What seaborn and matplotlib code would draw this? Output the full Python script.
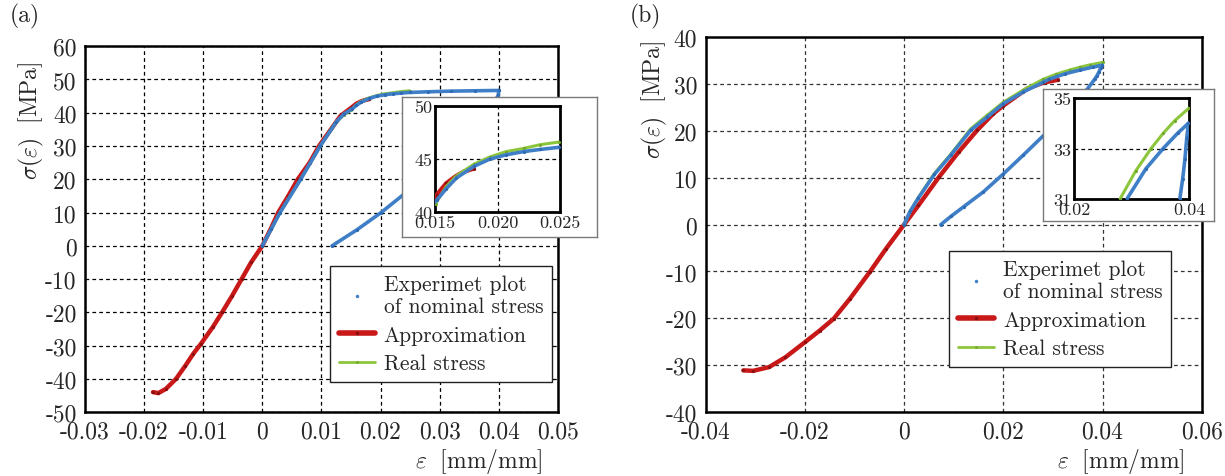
import numpy as np
import pandas as pd
import matplotlib
matplotlib.use("Agg")
import matplotlib.pyplot as plt
from matplotlib.lines import Line2D
from matplotlib.ticker import FuncFormatter, FixedLocator
import seaborn as sns

# ---------------- data: specimen (a) ----------------
a_exp_load_eps = [0, 0.0015, 0.003, 0.0065, 0.0098, 0.0125, 0.0138, 0.01513, 0.0159,
                  0.0167, 0.0181, 0.0194, 0.0207, 0.0221, 0.0234, 0.0249, 0.028,
                  0.032, 0.036, 0.0400]
a_exp_load_sig = [0, 5, 10, 20, 30, 37.2, 39.6, 41.1, 42.2, 43.2, 44.3, 45.0, 45.4,
                  45.7, 45.9, 46.1, 46.3, 46.5, 46.6, 46.7]
a_exp_unload_eps = [0.0400, 0.0399, 0.0395, 0.038, 0.035, 0.032, 0.029, 0.0265,
                    0.0243, 0.0201, 0.016, 0.0118]
a_exp_unload_sig = [46.7, 45.2, 44.0, 40.8, 35.3, 30.0, 24.9, 20.1, 16.0, 10.0, 4.8, 0.0]
a_approx_eps = [-0.0185, -0.0176, -0.0163, -0.0146, -0.0130, -0.0117, -0.0104,
                -0.0084, -0.0068, -0.0051, -0.0035, -0.0019, 0, 0.0014, 0.0027,
                0.0044, 0.006, 0.0080, 0.0096, 0.0116, 0.0132, 0.01513, 0.0159,
                0.0167, 0.0173, 0.0181]
a_approx_sig = [-44.0, -44.3, -43.0, -40.0, -36.0, -32.5, -29.5, -24.5, -20.0,
                -15.0, -10.0, -5.0, 0, 5, 10, 15, 20, 25, 30, 35, 39.0, 41.6, 42.7,
                43.4, 43.8, 44.1]
a_real_eps = [0, 0.003, 0.0065, 0.0098, 0.0125, 0.0138, 0.01505, 0.0159, 0.0167,
              0.0181, 0.0194, 0.0207, 0.0221, 0.0234, 0.0249]
a_real_sig = [0, 10, 20, 30, 37.2, 39.4, 40.8, 42.4, 43.4, 44.5, 45.2, 45.7, 46.0,
              46.35, 46.6]

# ---------------- data: specimen (b) ----------------
b_exp_load_eps = [0, 0.0012, 0.0029, 0.0061, 0.0094, 0.0134, 0.0167, 0.02, 0.024,
                  0.0281, 0.0292, 0.0325, 0.0355, 0.038, 0.0399]
b_exp_load_sig = [0, 2.8, 5.7, 10.7, 14.8, 20.1, 22.9, 25.8, 28.3, 30.4, 31.0,
                  32.2, 33.0, 33.6, 34.0]
b_exp_unload_eps = [0.0399, 0.0396, 0.0393, 0.0389, 0.0384, 0.037, 0.035, 0.032,
                    0.0281, 0.024, 0.02, 0.016, 0.012, 0.0095, 0.0074]
b_exp_unload_sig = [34.0, 33.4, 32.6, 31.8, 31.0, 29.0, 26.8, 23.4, 19.0, 14.8,
                    10.8, 7.0, 3.8, 1.8, 0.0]
b_approx_eps = [-0.0324, -0.0304, -0.0272, -0.0239, -0.0200, -0.0170, -0.0142,
                -0.0109, -0.0069, -0.0036, 0, 0.0029, 0.0070, 0.0110, 0.0147,
                0.0179, 0.0200, 0.0248, 0.0281, 0.031]
b_approx_sig = [-31.1, -31.2, -30.4, -28.3, -25.1, -22.6, -20.1, -15.8, -10.1,
                -5.1, 0, 4.1, 10.1, 15.5, 20.1, 23.6, 25.4, 29.0, 30.3, 30.9]
b_real_eps = [0, 0.0012, 0.0029, 0.0061, 0.0094, 0.0134, 0.0167, 0.02, 0.024,
              0.028, 0.0307, 0.0334, 0.0355, 0.0375, 0.04]
b_real_sig = [0, 2.8, 5.8, 10.9, 15.0, 20.4, 23.3, 26.1, 28.7, 31.0, 32.1, 33.0,
              33.6, 34.1, 34.6]

legend_labels = ["Experimet plot\nof nominal stress", "Approximation", "Real stress"]

# ---------------- style ----------------
sns.set_style("white")
plt.rcParams.update({
    "font.family": ["cmr10", "DejaVu Serif"],
    "mathtext.fontset": "cm",
    "axes.unicode_minus": False,
    "axes.formatter.use_mathtext": True,
    "axes.edgecolor": "black",
})

BLUE = "#3f7fc8"
RED = "#c81818"
GREEN = "#8cc63c"


def draw(ax, eps, sig, color, lw, ms, mcolor, z):
    df = pd.DataFrame({"eps": eps, "sig": sig})
    sns.lineplot(data=df, x="eps", y="sig", sort=False, estimator=None, ax=ax,
                 color=color, linewidth=lw, marker="o", markersize=ms,
                 markerfacecolor=mcolor, markeredgewidth=0, zorder=z)


def tick_fmt(v, pos):
    if abs(v) < 1e-12:
        return "0"
    return "%g" % v


def style_axes(ax, lw=1.8, grid_color="black"):
    for s in ax.spines.values():
        s.set_visible(True)
        s.set_linewidth(lw)
        s.set_color("black")
    ax.grid(True, linestyle=(0, (3, 2.5)), color=grid_color, linewidth=0.9)
    ax.tick_params(length=0, pad=6)
    ax.set_xlabel("")
    ax.set_ylabel("")


def draw_panel(ax, data, order):
    for key in order:
        eps, sig = data[key][0], data[key][1]
        if key.startswith("exp"):
            draw(ax, eps, sig, BLUE, 2.6, 2.3, "#2f6bb5", 4)
        elif key == "approx":
            draw(ax, eps, sig, RED, 3.2, 2.3, "#8a1010", 3)
        else:
            draw(ax, eps, sig, GREEN, 2.2, 2.2, "#6fa82a", 3.5)


fig = plt.figure(figsize=(12.25, 4.77), dpi=100)

panels = {
    "a": {
        "rect": [0.0694, 0.134, 0.386, 0.767],
        "data": {"exp_load": (a_exp_load_eps, a_exp_load_sig),
                 "exp_unload": (a_exp_unload_eps, a_exp_unload_sig),
                 "approx": (a_approx_eps, a_approx_sig),
                 "real": (a_real_eps, a_real_sig)},
        "xlim": (-0.03, 0.05), "xticks": np.arange(-0.03, 0.0501, 0.01),
        "ylim": (-50, 60), "yticks": np.arange(-50, 61, 10),
        "ylab_pos": (-0.083, 0.80), "xlab_pos": (0.833, -0.093),
        "legend_anchor": (0.518, 0.082),
        "grid": "black",
        "box": [402 / 1225, 1 - 238 / 477, 195 / 1225, 140 / 477],
        "inset": [435 / 1225, 1 - 213 / 477, 125 / 1225, 106 / 477],
        "ixlim": (0.015, 0.025), "ixticks": [0.015, 0.020, 0.025],
        "iylim": (40, 50), "iyticks": [40, 45, 50], "ifmt": "%.3f",
        "tag": (0.008, 0.966, "(a)"),
    },
    "b": {
        "rect": [0.576, 0.134, 0.405, 0.786],
        "data": {"exp_load": (b_exp_load_eps, b_exp_load_sig),
                 "exp_unload": (b_exp_unload_eps, b_exp_unload_sig),
                 "approx": (b_approx_eps, b_approx_sig),
                 "real": (b_real_eps, b_real_sig)},
        "xlim": (-0.04, 0.06), "xticks": np.arange(-0.04, 0.0601, 0.02),
        "ylim": (-40, 40), "yticks": np.arange(-40, 41, 10),
        "ylab_pos": (-0.074, 0.835), "xlab_pos": (0.837, -0.09),
        "legend_anchor": (0.491, 0.12),
        "grid": "#333333",
        "box": [1043 / 1225, 1 - 222 / 477, 171 / 1225, 132 / 477],
        "inset": [1074 / 1225, 1 - 200 / 477, 115 / 1225, 101 / 477],
        "ixlim": (0.02, 0.04), "ixticks": [0.02, 0.04],
        "iylim": (31, 35), "iyticks": [31, 33, 35], "ifmt": "%.2f",
        "tag": (0.514, 0.966, "(b)"),
    },
}

for name, p in panels.items():
    ax = fig.add_axes(p["rect"])
    if name == "a":
        draw_panel(ax, p["data"], ["approx", "real", "exp_load", "exp_unload"])
    else:
        draw_panel(ax, p["data"], ["exp_load", "exp_unload", "real", "approx"])
    style_axes(ax, grid_color=p["grid"])
    ax.set_xlim(*p["xlim"])
    ax.set_ylim(*p["ylim"])
    ax.xaxis.set_major_locator(FixedLocator(p["xticks"]))
    ax.yaxis.set_major_locator(FixedLocator(p["yticks"]))
    ax.xaxis.set_major_formatter(FuncFormatter(tick_fmt))
    ax.yaxis.set_major_formatter(FuncFormatter(tick_fmt))
    ax.tick_params(labelsize=17)
    ax.set_xlabel(r"$\varepsilon\ \ [\mathrm{mm/mm}]$", fontsize=17)
    ax.set_ylabel(r"$\sigma(\varepsilon)\ \ [\mathrm{MPa}]$", fontsize=17)
    ax.xaxis.set_label_coords(*p["xlab_pos"])
    ax.yaxis.set_label_coords(*p["ylab_pos"])

    handles = [
        Line2D([], [], linestyle="none", marker="o", markersize=2.5,
               markerfacecolor=BLUE, markeredgewidth=0),
        Line2D([], [], color=RED, linewidth=4, marker="o", markersize=2.5,
               markerfacecolor="#8a1010", markeredgewidth=0),
        Line2D([], [], color=GREEN, linewidth=2, marker="o", markersize=2,
               markerfacecolor="#6fa82a", markeredgewidth=0),
    ]
    leg = ax.legend(handles, legend_labels, loc="lower left",
                    bbox_to_anchor=p["legend_anchor"], fontsize=15.5,
                    frameon=True, fancybox=False, framealpha=1,
                    edgecolor="#222222", handlelength=1.7, handletextpad=0.4,
                    labelspacing=0.42, borderpad=0.4, borderaxespad=0)
    leg.get_frame().set_linewidth(1.0)
    leg.set_zorder(10)

    # white frame behind the zoomed view
    box = fig.add_axes(p["box"], zorder=2)
    box.set_xticks([])
    box.set_yticks([])
    box.set_facecolor("white")
    for s in box.spines.values():
        s.set_visible(True)
        s.set_color("#7a7a7a")
        s.set_linewidth(1.0)

    ins = fig.add_axes(p["inset"], zorder=3)
    draw_panel(ins, p["data"], ["exp_load", "exp_unload", "real", "approx"])
    style_axes(ins, lw=2.0)
    ins.set_xlim(*p["ixlim"])
    ins.set_ylim(*p["iylim"])
    ins.xaxis.set_major_locator(FixedLocator(p["ixticks"]))
    ins.yaxis.set_major_locator(FixedLocator(p["iyticks"]))
    fmt = p["ifmt"]
    ins.xaxis.set_major_formatter(FuncFormatter(lambda v, pos, f=fmt: f % v))
    ins.yaxis.set_major_formatter(FuncFormatter(lambda v, pos: "%g" % v))
    ins.tick_params(labelsize=13, pad=2)

    fig.text(p["tag"][0], p["tag"][1], p["tag"][2], fontsize=17, va="center")

fig.savefig("out.png", dpi=100)
